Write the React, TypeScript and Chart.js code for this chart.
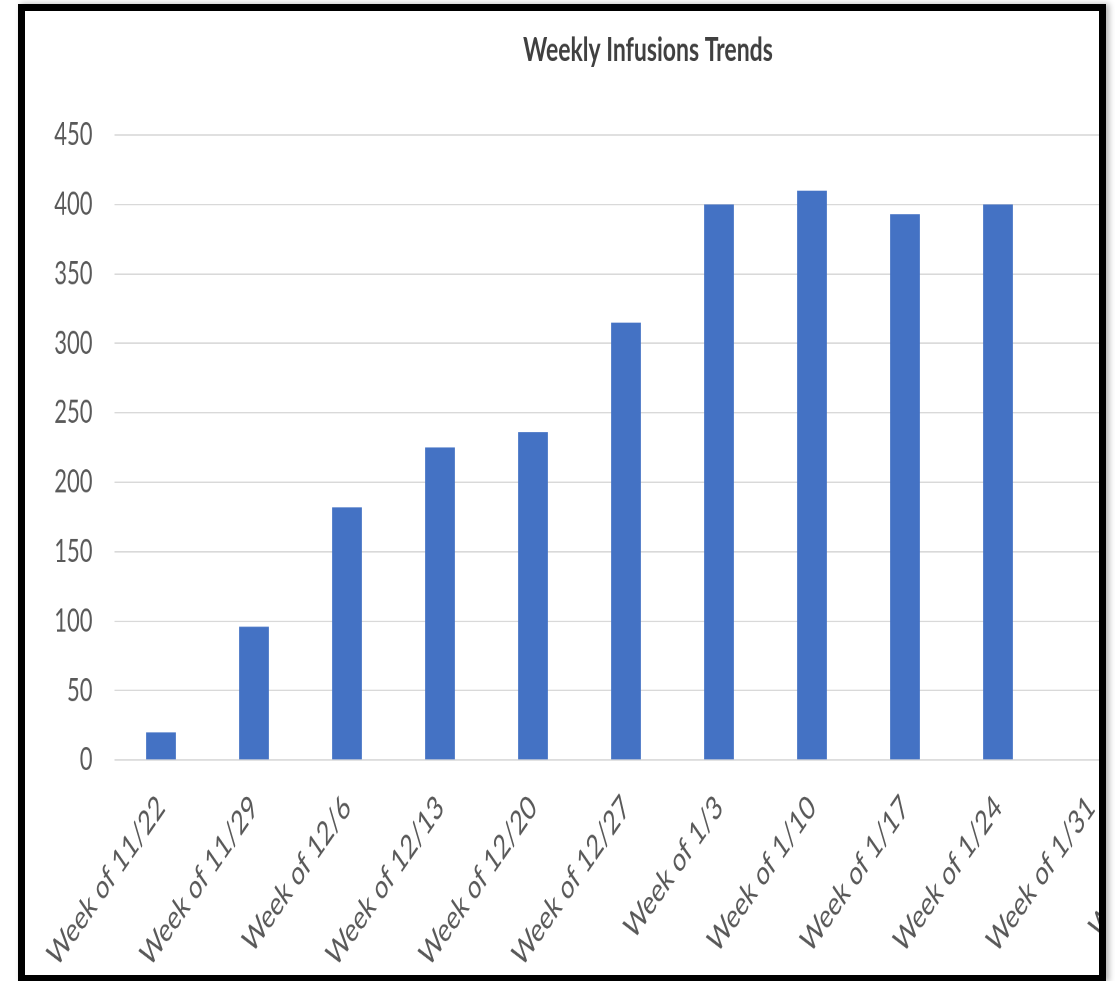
import React, { useEffect, useRef } from "react";
import { Chart, registerables } from "chart.js";

Chart.register(...registerables);

const TITLE = "Weekly Infusions Trends";
const WEEKS = [
  "Week of 11/22",
  "Week of 11/29",
  "Week of 12/6",
  "Week of 12/13",
  "Week of 12/20",
  "Week of 12/27",
  "Week of 1/3",
  "Week of 1/10",
  "Week of 1/17",
  "Week of 1/24",
  "Week of 1/31",
  "Week of 2/7",
];
const INFUSIONS = [20, 96, 182, 225, 236, 315, 400, 410, 393, 400, null, null];
const Y_TICKS = [0, 50, 100, 150, 200, 250, 300, 350, 400, 450];

const FONT = "Lato, 'Open Sans', 'Noto Sans', sans-serif";
const STRETCH = 1.45;
const CANVAS_W = 1246;
const CANVAS_H = 700;

export default function App() {
  const ref = useRef<HTMLCanvasElement | null>(null);

  useEffect(() => {
    if (!ref.current) return;
    const chart = new Chart(ref.current, {
      type: "bar",
      data: {
        labels: WEEKS,
        datasets: [
          {
            label: "Infusions",
            data: INFUSIONS,
            backgroundColor: "#4472C4",
            borderWidth: 0,
            barPercentage: 0.32,
            categoryPercentage: 1,
            yAxisID: "y",
          },
        ],
      },
      options: {
        responsive: false,
        animation: false,
        devicePixelRatio: 2,
        layout: { padding: 0 },
        plugins: {
          legend: { display: false },
          tooltip: { enabled: false },
          title: {
            display: true,
            text: TITLE,
            color: "#404040",
            font: { family: FONT, size: 23, weight: "bold" },
            padding: { top: 13.2, bottom: 44.7 },
          },
        },
        scales: {
          x: {
            grid: { display: false },
            border: { display: false },
            ticks: {
              color: "#595959",
              font: { family: FONT, size: 23 },
              minRotation: 45,
              maxRotation: 45,
              autoSkip: false,
              padding: 11,
            },
            afterFit: (s: any) => {
              s.height = 183.4;
            },
          },
          y: {
            min: 0,
            max: 450,
            grid: { color: "#d9d9d9", drawTicks: false, lineWidth: 1 },
            border: { display: false },
            ticks: {
              color: "#595959",
              font: { family: FONT, size: 22 },
              padding: 22,
            },
            afterBuildTicks: (s: any) => {
              s.ticks = Y_TICKS.map((v) => ({ value: v }));
            },
            afterFit: (s: any) => {
              s.width = 89.5;
            },
          },
          yRight: {
            type: "linear",
            position: "right",
            display: true,
            grid: { display: false },
            border: { display: false },
            ticks: { display: false },
            afterFit: (s: any) => {
              s.width = 40.5;
            },
          },
        },
      },
    });
    return () => chart.destroy();
  }, []);

  return (
    <div
      style={{
        position: "fixed",
        left: 0,
        top: 0,
        width: 1115,
        height: 981,
        background: "#fff",
        overflow: "hidden",
      }}
    >
      <div
        style={{
          position: "absolute",
          left: 18,
          top: 4,
          width: 1088,
          height: 978,
          boxSizing: "border-box",
          border: "7px solid #000",
          overflow: "hidden",
          background: "#fff",
          boxShadow: "3px 0 6px rgba(0,0,0,0.3)",
        }}
      >
        <div
          style={{
            position: "absolute",
            left: 0,
            top: 0,
            width: CANVAS_W,
            height: CANVAS_H,
            transform: `scaleY(${STRETCH})`,
            transformOrigin: "0 0",
          }}
        >
          <canvas ref={ref} width={CANVAS_W} height={CANVAS_H} />
        </div>
      </div>
    </div>
  );
}
